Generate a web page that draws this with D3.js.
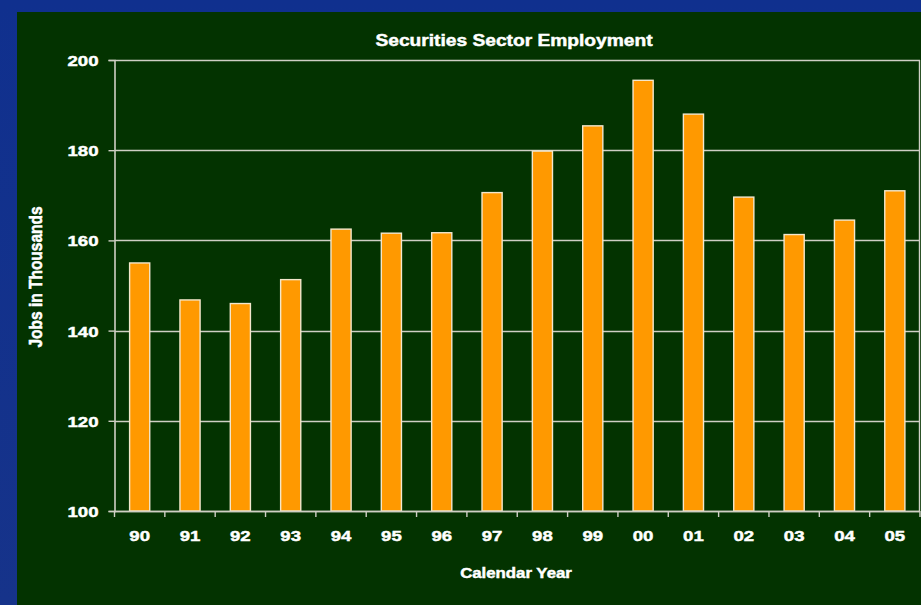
<!DOCTYPE html>
<html><head><meta charset="utf-8">
<script src="https://cdn.jsdelivr.net/npm/d3@7"></script>
<style>html,body{margin:0;padding:0;background:#12318c;overflow:hidden}</style>
</head><body>
<svg id="chart" width="921" height="605"></svg>
<script>
const years = ["90","91","92","93","94","95","96","97","98","99","00","01","02","03","04","05"];
const jobs = [155.0,146.8,146.0,151.3,162.5,161.6,161.7,170.6,179.8,185.4,195.5,188.0,169.6,161.3,164.5,171.0];
const yTicks = [100,120,140,160,180,200];
const title = "Securities Sector Employment";
const xTitle = "Calendar Year";
const yTitle = "Jobs in Thousands";

const svg = d3.select("#chart");
const W = 921, H = 605;
const m = {left:114.5, right:920, top:60, bottom:511};
const FONT = "'Liberation Sans', Arial, sans-serif";
const SX = 1.2;

// backgrounds
const grad = svg.append("defs").append("linearGradient").attr("id","bg").attr("x1",0).attr("y1",0).attr("x2",0).attr("y2",1);
grad.append("stop").attr("offset","0").attr("stop-color","#10308e");
grad.append("stop").attr("offset","1").attr("stop-color","#16338a");
svg.append("rect").attr("width",W).attr("height",H).attr("fill","url(#bg)");
svg.append("rect").attr("x",17).attr("y",12).attr("width",W-17).attr("height",H-12).attr("fill","#033300");

const x = d3.scaleBand().domain(years).range([m.left, m.right]).paddingInner(0.6).paddingOuter(0.3);
const y = d3.scaleLinear().domain([100,200]).range([m.bottom, m.top]);

const lineCol = "#cfcfc4";

// gridlines
svg.append("g").selectAll("line").data(yTicks).join("line")
  .attr("x1", m.left).attr("x2", m.right)
  .attr("y1", d => Math.round(y(d))+0.5).attr("y2", d => Math.round(y(d))+0.5)
  .attr("stroke", lineCol).attr("stroke-width",1.4);

// right frame
svg.append("line").attr("x1",m.right-0.5).attr("x2",m.right-0.5).attr("y1",m.top).attr("y2",m.bottom)
  .attr("stroke",lineCol).attr("stroke-width",1.4);

// bars
svg.append("g").selectAll("rect").data(jobs).join("rect")
  .attr("x", (d,i) => x(years[i]))
  .attr("y", d => y(d))
  .attr("width", x.bandwidth())
  .attr("height", d => y(100) - y(d))
  .attr("fill", "#ff9900")
  .attr("stroke", "#f3e7cc").attr("stroke-width", 1.4);

function heavy(sel){
  return sel.attr("fill","#fff").attr("stroke","#fff").attr("stroke-width",0.45)
    .attr("font-family",FONT).attr("font-weight","bold");
}

// y axis
const yAxis = svg.append("g").attr("transform", `translate(${m.left},0)`)
  .call(d3.axisLeft(y).tickValues(yTicks).tickSize(6).tickPadding(10).tickFormat(d3.format("d")));
yAxis.select(".domain").attr("stroke", lineCol).attr("stroke-width",1.6);
yAxis.selectAll(".tick line").attr("stroke", lineCol).attr("stroke-width",1.4);
yAxis.selectAll(".tick text").each(function(){
  d3.select(this).attr("x", null).attr("text-anchor","end").attr("dy","0.35em")
   .attr("transform", `translate(-16,0) scale(${SX},1)`);
}).call(heavy).attr("font-size","15.5px");

// x axis: ticks at band boundaries
const bounds = years.map(d => x(d) - x.step()*x.paddingInner()/2).concat([m.right]);
svg.append("line").attr("x1",m.left).attr("x2",m.right).attr("y1",m.bottom+0.5).attr("y2",m.bottom+0.5)
  .attr("stroke",lineCol).attr("stroke-width",1.6);
svg.append("g").selectAll("line").data(bounds).join("line")
  .attr("x1", d=>d).attr("x2", d=>d).attr("y1", m.bottom).attr("y2", m.bottom+6)
  .attr("stroke", lineCol).attr("stroke-width",1.4);
svg.append("g").selectAll("text").data(years).join("text")
  .attr("transform", d => `translate(${x(d)+x.bandwidth()/2},541) scale(${SX},1)`)
  .attr("text-anchor","middle").call(heavy).attr("font-size","15.5px")
  .text(d=>d);

// titles
svg.append("text").attr("transform", `translate(514,46) scale(${SX},1)`)
  .attr("text-anchor","middle").call(heavy).attr("font-size","16px").text(title);
svg.append("text").attr("transform", `translate(516,578) scale(${SX},1)`)
  .attr("text-anchor","middle").call(heavy).attr("font-size","14px").text(xTitle);
svg.append("text").attr("transform", `translate(42,277) scale(${SX},1) rotate(-90)`)
  .attr("text-anchor","middle").call(heavy).attr("font-size","15.5px").text(yTitle);
</script>
</body></html>
